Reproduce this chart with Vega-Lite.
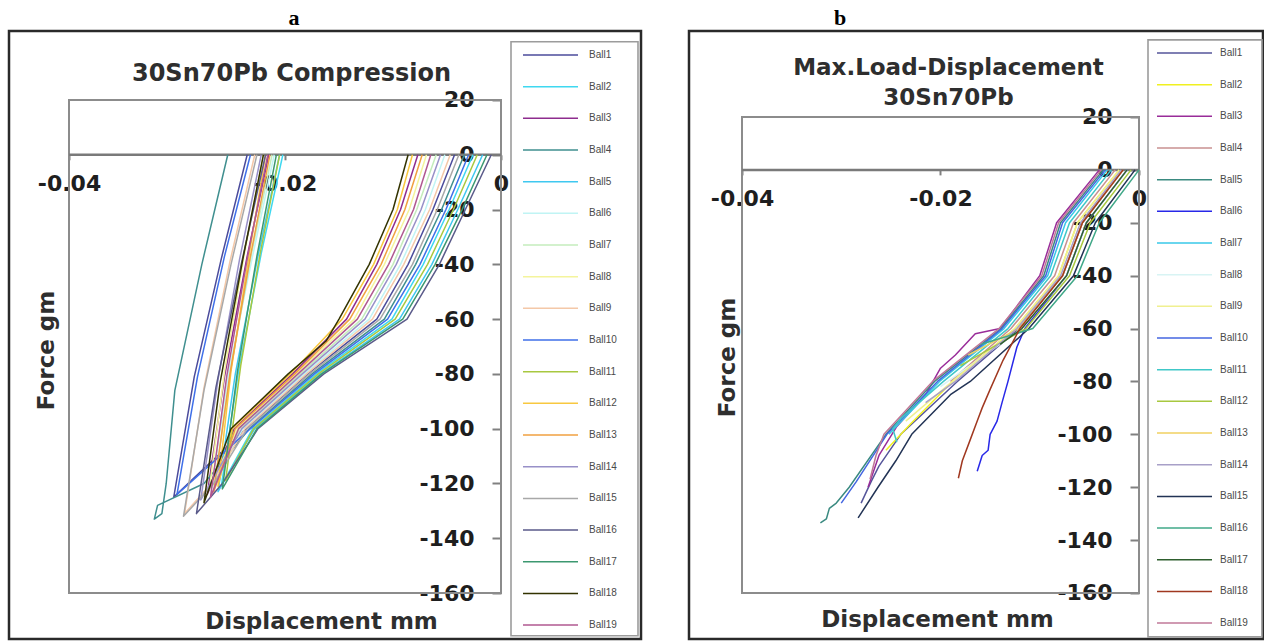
{
"$schema": "https://vega.github.io/schema/vega-lite/v6.json",
"background": "white",
"padding": {"left": 7, "top": 5, "right": 0, "bottom": 0},
"spacing": 44,
"config": {
 "view": {"stroke": "#2a2a2a", "strokeWidth": 2.5},
 "title": {"font": "Liberation Serif", "fontSize": 22, "fontWeight": "bold", "color": "#000000", "anchor": "middle", "baseline": "alphabetic", "offset": 1},
 "axis": {"labelFont": "DejaVu Sans", "labelFontWeight": "bold", "labelFontSize": 22, "labelColor": "#1e1e1e", "titleFont": "DejaVu Sans", "titleFontWeight": "bold", "titleFontSize": 23, "titleColor": "#2e2e2e", "grid": false, "domain": false, "tickColor": "#808080", "tickWidth": 2, "labelFlush": false, "labelOverlap": false},
 "legend": {"labelFont": "Liberation Sans", "labelFontSize": 10, "labelColor": "#4a4a4a", "padding": 5, "clipHeight": 16, "rowPadding": 15.67, "symbolType": "M-1,0H10", "symbolSize": 100, "symbolStrokeWidth": 2.2},
 "line": {"strokeWidth": 1.5, "strokeJoin": "round"}
},
"resolve": {"scale": {"color": "independent"}, "legend": {"color": "independent"}},
"datasets": {
"a": [
{"b":"Ball1","i":0,"d":-0.0043,"f":0},{"b":"Ball1","i":1,"d":-0.0063,"f":-20},{"b":"Ball1","i":2,"d":-0.0086,"f":-40},{"b":"Ball1","i":3,"d":-0.0115,"f":-60},{"b":"Ball1","i":4,"d":-0.0179,"f":-80},{"b":"Ball1","i":5,"d":-0.0236,"f":-100},{"b":"Ball1","i":6,"d":-0.0303,"f":-125},{"b":"Ball1","i":7,"d":-0.0284,"f":-81},{"b":"Ball1","i":8,"d":-0.0259,"f":-38},{"b":"Ball1","i":9,"d":-0.0235,"f":0},
{"b":"Ball2","i":0,"d":-0.0026,"f":0},{"b":"Ball2","i":1,"d":-0.0048,"f":-20},{"b":"Ball2","i":2,"d":-0.0072,"f":-40},{"b":"Ball2","i":3,"d":-0.0101,"f":-60},{"b":"Ball2","i":4,"d":-0.0171,"f":-80},{"b":"Ball2","i":5,"d":-0.0230,"f":-100},{"b":"Ball2","i":6,"d":-0.0259,"f":-121},{"b":"Ball2","i":7,"d":-0.0243,"f":-79},{"b":"Ball2","i":8,"d":-0.0222,"f":-36},{"b":"Ball2","i":9,"d":-0.0202,"f":0},
{"b":"Ball3","i":0,"d":-0.0077,"f":0},{"b":"Ball3","i":1,"d":-0.0093,"f":-20},{"b":"Ball3","i":2,"d":-0.0115,"f":-40},{"b":"Ball3","i":3,"d":-0.0143,"f":-60},{"b":"Ball3","i":4,"d":-0.0193,"f":-80},{"b":"Ball3","i":5,"d":-0.0247,"f":-100},{"b":"Ball3","i":6,"d":-0.0272,"f":-124},{"b":"Ball3","i":7,"d":-0.0256,"f":-81},{"b":"Ball3","i":8,"d":-0.0235,"f":-37},{"b":"Ball3","i":9,"d":-0.0215,"f":0},
{"b":"Ball4","i":0,"d":-0.0034,"f":0},{"b":"Ball4","i":1,"d":-0.0055,"f":-20},{"b":"Ball4","i":2,"d":-0.0079,"f":-40},{"b":"Ball4","i":3,"d":-0.0108,"f":-60},{"b":"Ball4","i":4,"d":-0.0175,"f":-80},{"b":"Ball4","i":5,"d":-0.0233,"f":-100},{"b":"Ball4","i":6,"d":-0.0275,"f":-120},{"b":"Ball4","i":7,"d":-0.0318,"f":-128},{"b":"Ball4","i":8,"d":-0.0321,"f":-133},{"b":"Ball4","i":9,"d":-0.0314,"f":-131},{"b":"Ball4","i":10,"d":-0.0310,"f":-120},{"b":"Ball4","i":11,"d":-0.0302,"f":-86},{"b":"Ball4","i":12,"d":-0.0277,"f":-40},{"b":"Ball4","i":13,"d":-0.0253,"f":0},
{"b":"Ball5","i":0,"d":-0.0017,"f":0},{"b":"Ball5","i":1,"d":-0.0040,"f":-20},{"b":"Ball5","i":2,"d":-0.0064,"f":-40},{"b":"Ball5","i":3,"d":-0.0094,"f":-60},{"b":"Ball5","i":4,"d":-0.0167,"f":-80},{"b":"Ball5","i":5,"d":-0.0228,"f":-100},{"b":"Ball5","i":6,"d":-0.0262,"f":-123},{"b":"Ball5","i":7,"d":-0.0246,"f":-80},{"b":"Ball5","i":8,"d":-0.0225,"f":-37},{"b":"Ball5","i":9,"d":-0.0205,"f":0},
{"b":"Ball6","i":0,"d":-0.0052,"f":0},{"b":"Ball6","i":1,"d":-0.0070,"f":-20},{"b":"Ball6","i":2,"d":-0.0093,"f":-40},{"b":"Ball6","i":3,"d":-0.0122,"f":-60},{"b":"Ball6","i":4,"d":-0.0182,"f":-80},{"b":"Ball6","i":5,"d":-0.0239,"f":-100},{"b":"Ball6","i":6,"d":-0.0268,"f":-122},{"b":"Ball6","i":7,"d":-0.0252,"f":-79},{"b":"Ball6","i":8,"d":-0.0230,"f":-37},{"b":"Ball6","i":9,"d":-0.0210,"f":0},
{"b":"Ball7","i":0,"d":-0.0060,"f":0},{"b":"Ball7","i":1,"d":-0.0078,"f":-20},{"b":"Ball7","i":2,"d":-0.0100,"f":-40},{"b":"Ball7","i":3,"d":-0.0129,"f":-60},{"b":"Ball7","i":4,"d":-0.0186,"f":-80},{"b":"Ball7","i":5,"d":-0.0242,"f":-100},{"b":"Ball7","i":6,"d":-0.0265,"f":-120},{"b":"Ball7","i":7,"d":-0.0250,"f":-78},{"b":"Ball7","i":8,"d":-0.0231,"f":-36},{"b":"Ball7","i":9,"d":-0.0212,"f":0},
{"b":"Ball8","i":0,"d":-0.0069,"f":0},{"b":"Ball8","i":1,"d":-0.0085,"f":-20},{"b":"Ball8","i":2,"d":-0.0108,"f":-40},{"b":"Ball8","i":3,"d":-0.0136,"f":-60},{"b":"Ball8","i":4,"d":-0.0190,"f":-80},{"b":"Ball8","i":5,"d":-0.0244,"f":-100},{"b":"Ball8","i":6,"d":-0.0270,"f":-122},{"b":"Ball8","i":7,"d":-0.0256,"f":-79},{"b":"Ball8","i":8,"d":-0.0238,"f":-37},{"b":"Ball8","i":9,"d":-0.0220,"f":0},
{"b":"Ball9","i":0,"d":-0.0047,"f":0},{"b":"Ball9","i":1,"d":-0.0066,"f":-20},{"b":"Ball9","i":2,"d":-0.0090,"f":-40},{"b":"Ball9","i":3,"d":-0.0119,"f":-60},{"b":"Ball9","i":4,"d":-0.0180,"f":-80},{"b":"Ball9","i":5,"d":-0.0237,"f":-100},{"b":"Ball9","i":6,"d":-0.0268,"f":-120},{"b":"Ball9","i":7,"d":-0.0293,"f":-131},{"b":"Ball9","i":8,"d":-0.0275,"f":-85},{"b":"Ball9","i":9,"d":-0.0251,"f":-39},{"b":"Ball9","i":10,"d":-0.0228,"f":0},
{"b":"Ball10","i":0,"d":-0.0030,"f":0},{"b":"Ball10","i":1,"d":-0.0051,"f":-20},{"b":"Ball10","i":2,"d":-0.0075,"f":-40},{"b":"Ball10","i":3,"d":-0.0105,"f":-60},{"b":"Ball10","i":4,"d":-0.0173,"f":-80},{"b":"Ball10","i":5,"d":-0.0232,"f":-100},{"b":"Ball10","i":6,"d":-0.0300,"f":-124},{"b":"Ball10","i":7,"d":-0.0281,"f":-81},{"b":"Ball10","i":8,"d":-0.0256,"f":-37},{"b":"Ball10","i":9,"d":-0.0232,"f":0},
{"b":"Ball11","i":0,"d":-0.0022,"f":0},{"b":"Ball11","i":1,"d":-0.0044,"f":-20},{"b":"Ball11","i":2,"d":-0.0068,"f":-40},{"b":"Ball11","i":3,"d":-0.0098,"f":-60},{"b":"Ball11","i":4,"d":-0.0169,"f":-80},{"b":"Ball11","i":5,"d":-0.0229,"f":-100},{"b":"Ball11","i":6,"d":-0.0255,"f":-119},{"b":"Ball11","i":7,"d":-0.0241,"f":-77},{"b":"Ball11","i":8,"d":-0.0223,"f":-36},{"b":"Ball11","i":9,"d":-0.0205,"f":0},
{"b":"Ball12","i":0,"d":-0.0082,"f":0},{"b":"Ball12","i":1,"d":-0.0096,"f":-20},{"b":"Ball12","i":2,"d":-0.0118,"f":-40},{"b":"Ball12","i":3,"d":-0.0147,"f":-60},{"b":"Ball12","i":4,"d":-0.0195,"f":-80},{"b":"Ball12","i":5,"d":-0.0249,"f":-100},{"b":"Ball12","i":6,"d":-0.0262,"f":-121},{"b":"Ball12","i":7,"d":-0.0250,"f":-79},{"b":"Ball12","i":8,"d":-0.0233,"f":-36},{"b":"Ball12","i":9,"d":-0.0218,"f":0},
{"b":"Ball13","i":0,"d":-0.0073,"f":0},{"b":"Ball13","i":1,"d":-0.0089,"f":-20},{"b":"Ball13","i":2,"d":-0.0111,"f":-40},{"b":"Ball13","i":3,"d":-0.0140,"f":-60},{"b":"Ball13","i":4,"d":-0.0191,"f":-80},{"b":"Ball13","i":5,"d":-0.0246,"f":-100},{"b":"Ball13","i":6,"d":-0.0266,"f":-123},{"b":"Ball13","i":7,"d":-0.0251,"f":-80},{"b":"Ball13","i":8,"d":-0.0232,"f":-37},{"b":"Ball13","i":9,"d":-0.0214,"f":0},
{"b":"Ball14","i":0,"d":-0.0056,"f":0},{"b":"Ball14","i":1,"d":-0.0074,"f":-20},{"b":"Ball14","i":2,"d":-0.0097,"f":-40},{"b":"Ball14","i":3,"d":-0.0126,"f":-60},{"b":"Ball14","i":4,"d":-0.0184,"f":-80},{"b":"Ball14","i":5,"d":-0.0240,"f":-100},{"b":"Ball14","i":6,"d":-0.0278,"f":-126},{"b":"Ball14","i":7,"d":-0.0262,"f":-82},{"b":"Ball14","i":8,"d":-0.0242,"f":-38},{"b":"Ball14","i":9,"d":-0.0222,"f":0},
{"b":"Ball15","i":0,"d":-0.0039,"f":0},{"b":"Ball15","i":1,"d":-0.0059,"f":-20},{"b":"Ball15","i":2,"d":-0.0082,"f":-40},{"b":"Ball15","i":3,"d":-0.0112,"f":-60},{"b":"Ball15","i":4,"d":-0.0177,"f":-80},{"b":"Ball15","i":5,"d":-0.0235,"f":-100},{"b":"Ball15","i":6,"d":-0.0266,"f":-120},{"b":"Ball15","i":7,"d":-0.0294,"f":-132},{"b":"Ball15","i":8,"d":-0.0275,"f":-86},{"b":"Ball15","i":9,"d":-0.0250,"f":-40},{"b":"Ball15","i":10,"d":-0.0226,"f":0},
{"b":"Ball16","i":0,"d":-0.0009,"f":0},{"b":"Ball16","i":1,"d":-0.0033,"f":-20},{"b":"Ball16","i":2,"d":-0.0057,"f":-40},{"b":"Ball16","i":3,"d":-0.0087,"f":-60},{"b":"Ball16","i":4,"d":-0.0164,"f":-80},{"b":"Ball16","i":5,"d":-0.0225,"f":-100},{"b":"Ball16","i":6,"d":-0.0258,"f":-120},{"b":"Ball16","i":7,"d":-0.0282,"f":-131},{"b":"Ball16","i":8,"d":-0.0264,"f":-85},{"b":"Ball16","i":9,"d":-0.0240,"f":-39},{"b":"Ball16","i":10,"d":-0.0218,"f":0},
{"b":"Ball17","i":0,"d":-0.0013,"f":0},{"b":"Ball17","i":1,"d":-0.0036,"f":-20},{"b":"Ball17","i":2,"d":-0.0061,"f":-40},{"b":"Ball17","i":3,"d":-0.0091,"f":-60},{"b":"Ball17","i":4,"d":-0.0166,"f":-80},{"b":"Ball17","i":5,"d":-0.0226,"f":-100},{"b":"Ball17","i":6,"d":-0.0258,"f":-122},{"b":"Ball17","i":7,"d":-0.0244,"f":-79},{"b":"Ball17","i":8,"d":-0.0226,"f":-37},{"b":"Ball17","i":9,"d":-0.0208,"f":0},
{"b":"Ball18","i":0,"d":-0.0086,"f":0},{"b":"Ball18","i":1,"d":-0.0100,"f":-20},{"b":"Ball18","i":2,"d":-0.0122,"f":-40},{"b":"Ball18","i":3,"d":-0.0150,"f":-60},{"b":"Ball18","i":4,"d":-0.0162,"f":-68},{"b":"Ball18","i":5,"d":-0.0197,"f":-80},{"b":"Ball18","i":6,"d":-0.0250,"f":-100},{"b":"Ball18","i":7,"d":-0.0275,"f":-127},{"b":"Ball18","i":8,"d":-0.0260,"f":-83},{"b":"Ball18","i":9,"d":-0.0239,"f":-38},{"b":"Ball18","i":10,"d":-0.0220,"f":0},
{"b":"Ball19","i":0,"d":-0.0065,"f":0},{"b":"Ball19","i":1,"d":-0.0081,"f":-20},{"b":"Ball19","i":2,"d":-0.0104,"f":-40},{"b":"Ball19","i":3,"d":-0.0133,"f":-60},{"b":"Ball19","i":4,"d":-0.0188,"f":-80},{"b":"Ball19","i":5,"d":-0.0243,"f":-100},{"b":"Ball19","i":6,"d":-0.0269,"f":-125},{"b":"Ball19","i":7,"d":-0.0254,"f":-81},{"b":"Ball19","i":8,"d":-0.0235,"f":-38},{"b":"Ball19","i":9,"d":-0.0216,"f":0}
],
"b": [
{"b":"Ball1","i":0,"d":-0.0016,"f":0},{"b":"Ball1","i":1,"d":-0.0057,"f":-20},{"b":"Ball1","i":2,"d":-0.0077,"f":-40},{"b":"Ball1","i":3,"d":-0.0121,"f":-60},{"b":"Ball1","i":4,"d":-0.0183,"f":-80},{"b":"Ball1","i":5,"d":-0.0240,"f":-100},{"b":"Ball1","i":6,"d":-0.0262,"f":-112},{"b":"Ball1","i":7,"d":-0.0270,"f":-118},{"b":"Ball1","i":8,"d":-0.0280,"f":-126},
{"b":"Ball2","i":0,"d":-0.0020,"f":0},{"b":"Ball2","i":1,"d":-0.0062,"f":-20},{"b":"Ball2","i":2,"d":-0.0081,"f":-40},{"b":"Ball2","i":3,"d":-0.0125,"f":-60},{"b":"Ball2","i":4,"d":-0.0188,"f":-80},{"b":"Ball2","i":5,"d":-0.0230,"f":-96},{"b":"Ball2","i":6,"d":-0.0255,"f":-106},
{"b":"Ball3","i":0,"d":-0.0040,"f":0},{"b":"Ball3","i":1,"d":-0.0083,"f":-20},{"b":"Ball3","i":2,"d":-0.0100,"f":-40},{"b":"Ball3","i":3,"d":-0.0140,"f":-60},{"b":"Ball3","i":4,"d":-0.0165,"f":-62},{"b":"Ball3","i":5,"d":-0.0185,"f":-70},{"b":"Ball3","i":6,"d":-0.0200,"f":-75},{"b":"Ball3","i":7,"d":-0.0215,"f":-85},{"b":"Ball3","i":8,"d":-0.0232,"f":-92},{"b":"Ball3","i":9,"d":-0.0244,"f":-97},{"b":"Ball3","i":10,"d":-0.0262,"f":-108},{"b":"Ball3","i":11,"d":-0.0273,"f":-120},
{"b":"Ball4","i":0,"d":-0.0024,"f":0},{"b":"Ball4","i":1,"d":-0.0066,"f":-20},{"b":"Ball4","i":2,"d":-0.0085,"f":-40},{"b":"Ball4","i":3,"d":-0.0129,"f":-60},{"b":"Ball4","i":4,"d":-0.0190,"f":-80},
{"b":"Ball5","i":0,"d":-0.0036,"f":0},{"b":"Ball5","i":1,"d":-0.0079,"f":-20},{"b":"Ball5","i":2,"d":-0.0096,"f":-40},{"b":"Ball5","i":3,"d":-0.0139,"f":-60},{"b":"Ball5","i":4,"d":-0.0206,"f":-80},{"b":"Ball5","i":5,"d":-0.0255,"f":-100},{"b":"Ball5","i":6,"d":-0.0292,"f":-120},{"b":"Ball5","i":7,"d":-0.0305,"f":-126},{"b":"Ball5","i":8,"d":-0.0312,"f":-128},{"b":"Ball5","i":9,"d":-0.0315,"f":-132},{"b":"Ball5","i":10,"d":-0.0321,"f":-133.5},
{"b":"Ball6","i":0,"d":-0.0012,"f":0},{"b":"Ball6","i":1,"d":-0.0053,"f":-20},{"b":"Ball6","i":2,"d":-0.0073,"f":-40},{"b":"Ball6","i":3,"d":-0.0115,"f":-60},{"b":"Ball6","i":4,"d":-0.0123,"f":-67},{"b":"Ball6","i":5,"d":-0.0132,"f":-80},{"b":"Ball6","i":6,"d":-0.0138,"f":-88},{"b":"Ball6","i":7,"d":-0.0143,"f":-95},{"b":"Ball6","i":8,"d":-0.0150,"f":-100},{"b":"Ball6","i":9,"d":-0.0152,"f":-106},{"b":"Ball6","i":10,"d":-0.0158,"f":-108},{"b":"Ball6","i":11,"d":-0.0163,"f":-114},
{"b":"Ball7","i":0,"d":-0.0032,"f":0},{"b":"Ball7","i":1,"d":-0.0074,"f":-20},{"b":"Ball7","i":2,"d":-0.0092,"f":-40},{"b":"Ball7","i":3,"d":-0.0136,"f":-60},{"b":"Ball7","i":4,"d":-0.0201,"f":-80},{"b":"Ball7","i":5,"d":-0.0252,"f":-100},
{"b":"Ball8","i":0,"d":-0.0012,"f":0},{"b":"Ball8","i":1,"d":-0.0053,"f":-20},{"b":"Ball8","i":2,"d":-0.0073,"f":-40},{"b":"Ball8","i":3,"d":-0.0118,"f":-60},{"b":"Ball8","i":4,"d":-0.0200,"f":-82},
{"b":"Ball9","i":0,"d":-0.0020,"f":0},{"b":"Ball9","i":1,"d":-0.0062,"f":-20},{"b":"Ball9","i":2,"d":-0.0081,"f":-40},{"b":"Ball9","i":3,"d":-0.0125,"f":-60},{"b":"Ball9","i":4,"d":-0.0188,"f":-80},{"b":"Ball9","i":5,"d":-0.0235,"f":-95},
{"b":"Ball10","i":0,"d":-0.0034,"f":0},{"b":"Ball10","i":1,"d":-0.0077,"f":-20},{"b":"Ball10","i":2,"d":-0.0094,"f":-40},{"b":"Ball10","i":3,"d":-0.0138,"f":-60},{"b":"Ball10","i":4,"d":-0.0203,"f":-80},{"b":"Ball10","i":5,"d":-0.0254,"f":-100},{"b":"Ball10","i":6,"d":-0.0285,"f":-118},{"b":"Ball10","i":7,"d":-0.0300,"f":-126},
{"b":"Ball11","i":0,"d":-0.0028,"f":0},{"b":"Ball11","i":1,"d":-0.0070,"f":-20},{"b":"Ball11","i":2,"d":-0.0089,"f":-40},{"b":"Ball11","i":3,"d":-0.0132,"f":-60},{"b":"Ball11","i":4,"d":-0.0197,"f":-80},{"b":"Ball11","i":5,"d":-0.0240,"f":-94},{"b":"Ball11","i":6,"d":-0.0248,"f":-98},{"b":"Ball11","i":7,"d":-0.0244,"f":-103},
{"b":"Ball12","i":0,"d":-0.0008,"f":0},{"b":"Ball12","i":1,"d":-0.0049,"f":-20},{"b":"Ball12","i":2,"d":-0.0070,"f":-40},{"b":"Ball12","i":3,"d":-0.0114,"f":-60},{"b":"Ball12","i":4,"d":-0.0180,"f":-74},
{"b":"Ball13","i":0,"d":-0.0016,"f":0},{"b":"Ball13","i":1,"d":-0.0057,"f":-20},{"b":"Ball13","i":2,"d":-0.0077,"f":-40},{"b":"Ball13","i":3,"d":-0.0121,"f":-60},{"b":"Ball13","i":4,"d":-0.0172,"f":-70},
{"b":"Ball14","i":0,"d":-0.0018,"f":0},{"b":"Ball14","i":1,"d":-0.0059,"f":-20},{"b":"Ball14","i":2,"d":-0.0079,"f":-40},{"b":"Ball14","i":3,"d":-0.0123,"f":-60},{"b":"Ball14","i":4,"d":-0.0185,"f":-80},{"b":"Ball14","i":5,"d":-0.0215,"f":-88},
{"b":"Ball15","i":0,"d":-0.0004,"f":0},{"b":"Ball15","i":1,"d":-0.0044,"f":-20},{"b":"Ball15","i":2,"d":-0.0066,"f":-40},{"b":"Ball15","i":3,"d":-0.0111,"f":-60},{"b":"Ball15","i":4,"d":-0.0170,"f":-80},{"b":"Ball15","i":5,"d":-0.0190,"f":-85},{"b":"Ball15","i":6,"d":-0.0229,"f":-100},{"b":"Ball15","i":7,"d":-0.0245,"f":-110},{"b":"Ball15","i":8,"d":-0.0263,"f":-120},{"b":"Ball15","i":9,"d":-0.0283,"f":-131.6},
{"b":"Ball16","i":0,"d":0,"f":0},{"b":"Ball16","i":1,"d":-0.0040,"f":-20},{"b":"Ball16","i":2,"d":-0.0062,"f":-40},{"b":"Ball16","i":3,"d":-0.0107,"f":-60},{"b":"Ball16","i":4,"d":-0.0160,"f":-66},
{"b":"Ball17","i":0,"d":-0.0012,"f":0},{"b":"Ball17","i":1,"d":-0.0053,"f":-20},{"b":"Ball17","i":2,"d":-0.0073,"f":-40},{"b":"Ball17","i":3,"d":-0.0118,"f":-60},{"b":"Ball17","i":4,"d":-0.0140,"f":-66},
{"b":"Ball18","i":0,"d":-0.0016,"f":0},{"b":"Ball18","i":1,"d":-0.0057,"f":-20},{"b":"Ball18","i":2,"d":-0.0077,"f":-40},{"b":"Ball18","i":3,"d":-0.0120,"f":-60},{"b":"Ball18","i":4,"d":-0.0137,"f":-72},{"b":"Ball18","i":5,"d":-0.0150,"f":-83},{"b":"Ball18","i":6,"d":-0.0158,"f":-90},{"b":"Ball18","i":7,"d":-0.0163,"f":-95},{"b":"Ball18","i":8,"d":-0.0170,"f":-102},{"b":"Ball18","i":9,"d":-0.0178,"f":-110},{"b":"Ball18","i":10,"d":-0.0182,"f":-116.6},
{"b":"Ball19","i":0,"d":-0.0038,"f":0},{"b":"Ball19","i":1,"d":-0.0081,"f":-20},{"b":"Ball19","i":2,"d":-0.0098,"f":-40},{"b":"Ball19","i":3,"d":-0.0141,"f":-60},{"b":"Ball19","i":4,"d":-0.0208,"f":-80},{"b":"Ball19","i":5,"d":-0.0257,"f":-100},{"b":"Ball19","i":6,"d":-0.0265,"f":-108},{"b":"Ball19","i":7,"d":-0.0271,"f":-117}
]
},
"hconcat": [
{
 "width": 632, "height": 608,
 "title": {"text": "a", "dx": -31},
 "resolve": {"axis": {"x": "independent", "y": "independent"}},
 "layer": [
  {"data": {"values": [{}]},
   "mark": {"type": "rect", "filled": false, "stroke": "#8c8c8c", "strokeWidth": 2},
   "encoding": {
    "x": {"datum": -0.04, "type": "quantitative", "scale": {"domain": [-0.045556, 0.012963], "nice": false, "zero": false}, "axis": null},
    "x2": {"datum": 0},
    "y": {"datum": 20, "type": "quantitative", "scale": {"domain": [-176.79, 45.19], "nice": false, "zero": false}, "axis": null},
    "y2": {"datum": -160}}},
  {"data": {"values": [{}]},
   "mark": {"type": "rect", "filled": false, "stroke": "#9c9c9c", "strokeWidth": 1.6},
   "encoding": {
    "x": {"datum": 0.000926, "type": "quantitative", "axis": null},
    "x2": {"datum": 0.012685},
    "y": {"datum": 41.26, "type": "quantitative", "axis": null},
    "y2": {"datum": -175.6}}},
  {"data": {"values": [{}]},
   "mark": {"type": "rule", "stroke": "#7a7a7a", "strokeWidth": 2.5},
   "encoding": {
    "x": {"datum": -0.04, "type": "quantitative", "axis": {"orient": "top", "labels": false, "ticks": false, "domain": false, "title": "30Sn70Pb Compression", "titleFontSize": 24, "titleX": 282, "titleY": 42, "titleBaseline": "middle", "titleAlign": "center", "titleAngle": 0}},
    "x2": {"datum": 0},
    "y": {"datum": 0, "type": "quantitative", "axis": null}}},
  {"data": {"name": "a"},
   "mark": {"type": "line"},
   "encoding": {
    "x": {"field": "d", "type": "quantitative", "scale": {"domain": [-0.045556, 0.012963], "nice": false, "zero": false},
      "axis": {"orient": "bottom", "offset": -484.2, "values": [-0.04, -0.02, 0], "labelExpr": "toString(datum.value)", "tickSize": 5, "labelPadding": 14, "title": "Displacement mm", "titleX": 312, "titleY": 467, "titleBaseline": "middle", "titleAlign": "center"}},
    "y": {"field": "f", "type": "quantitative", "scale": {"domain": [-176.79, 45.19], "nice": false, "zero": false},
      "axis": {"orient": "left", "offset": -492, "values": [20, 0, -20, -40, -60, -80, -100, -120, -140, -160], "labelExpr": "toString(datum.value)", "tickSize": 9, "labelPadding": 18, "title": "Force gm", "titleX": -455, "titleY": 319, "titleAngle": -90, "titleBaseline": "middle", "titleAlign": "center"}},
    "color": {"field": "b", "type": "nominal",
      "scale": {"domain": ["Ball1","Ball2","Ball3","Ball4","Ball5","Ball6","Ball7","Ball8","Ball9","Ball10","Ball11","Ball12","Ball13","Ball14","Ball15","Ball16","Ball17","Ball18","Ball19"],
        "range": ["#4b4b9b","#3fd8f0","#8e2c8e","#3f8f8f","#3fc8f0","#c0f4f4","#c4ecbc","#f4f49c","#f4c8a8","#3f6fe8","#a8c840","#f8c840","#f0a040","#9890c8","#a8a8a8","#5a5a8a","#3c9870","#333300","#b05890"]},
      "legend": {"orient": "none", "legendX": 502, "legendY": 11, "title": null, "symbolOffset": 6, "labelOffset": 55}},
    "order": {"field": "i"}}}
 ]
},
{
 "width": 574, "height": 608,
 "title": {"text": "b", "dx": -136},
 "resolve": {"axis": {"x": "independent", "y": "independent"}},
 "layer": [
  {"data": {"values": [{}]},
   "mark": {"type": "rect", "filled": false, "stroke": "#8c8c8c", "strokeWidth": 2},
   "encoding": {
    "x": {"datum": -0.04, "type": "quantitative", "scale": {"domain": [-0.04534, 0.012494], "nice": false, "zero": false}, "axis": null},
    "x2": {"datum": 0},
    "y": {"datum": 20, "type": "quantitative", "scale": {"domain": [-177.40, 52.52], "nice": false, "zero": false}, "axis": null},
    "y2": {"datum": -160}}},
  {"data": {"values": [{}]},
   "mark": {"type": "rect", "filled": false, "stroke": "#9c9c9c", "strokeWidth": 1.6},
   "encoding": {
    "x": {"datum": 0.000907, "type": "quantitative", "axis": null},
    "x2": {"datum": 0.012393},
    "y": {"datum": 49.16, "type": "quantitative", "axis": null},
    "y2": {"datum": -176.6}}},
  {"data": {"values": [{}]},
   "mark": {"type": "rule", "stroke": "#7a7a7a", "strokeWidth": 2.5},
   "encoding": {
    "x": {"datum": -0.04, "type": "quantitative", "axis": {"orient": "top", "labels": false, "ticks": false, "domain": false, "title": ["Max.Load-Displacement", "30Sn70Pb"], "titleX": 259, "titleY": 36, "titleBaseline": "middle", "titleAlign": "center", "titleAngle": 0, "titleLineHeight": 30}},
    "x2": {"datum": 0},
    "y": {"datum": 0, "type": "quantitative", "axis": null}}},
  {"data": {"name": "b"},
   "mark": {"type": "line"},
   "encoding": {
    "x": {"field": "d", "type": "quantitative", "scale": {"domain": [-0.04534, 0.012494], "nice": false, "zero": false},
      "axis": {"orient": "bottom", "offset": -469.1, "values": [-0.04, -0.02, 0], "labelExpr": "toString(datum.value)", "tickSize": 5, "labelPadding": 14, "title": "Displacement mm", "titleX": 248, "titleY": 450, "titleBaseline": "middle", "titleAlign": "center"}},
    "y": {"field": "f", "type": "quantitative", "scale": {"domain": [-177.40, 52.52], "nice": false, "zero": false},
      "axis": {"orient": "left", "offset": -450, "values": [20, 0, -20, -40, -60, -80, -100, -120, -140, -160], "labelExpr": "toString(datum.value)", "tickSize": 9, "labelPadding": 18, "title": "Force gm", "titleX": -412, "titleY": 326, "titleAngle": -90, "titleBaseline": "middle", "titleAlign": "center"}},
    "color": {"field": "b", "type": "nominal",
      "scale": {"domain": ["Ball1","Ball2","Ball3","Ball4","Ball5","Ball6","Ball7","Ball8","Ball9","Ball10","Ball11","Ball12","Ball13","Ball14","Ball15","Ball16","Ball17","Ball18","Ball19"],
        "range": ["#55559a","#f0f020","#992c99","#c89090","#3a8a80","#2828e8","#38c8e8","#d8f4f4","#f0f090","#4466e0","#40c8c8","#a8c840","#f0d060","#a8a0c8","#223355","#40a888","#2e5e2e","#a03820","#c07898"]},
      "legend": {"orient": "none", "legendX": 459, "legendY": 9, "title": null, "symbolOffset": 3, "labelOffset": 52}},
    "order": {"field": "i"}}}
 ]
}
]
}
